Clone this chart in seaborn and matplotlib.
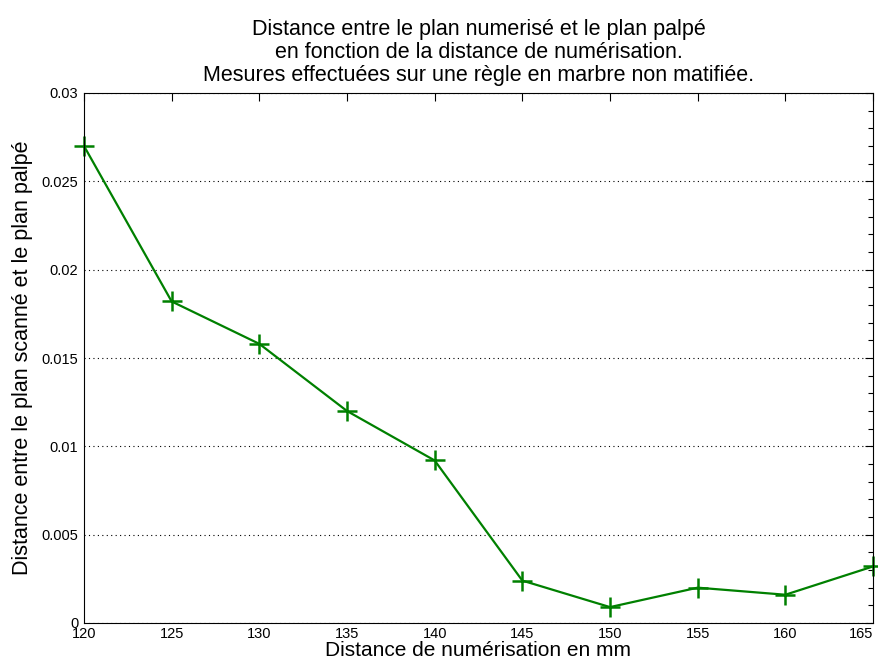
import numpy as np
import pandas as pd
import matplotlib
matplotlib.use("Agg")
import matplotlib.pyplot as plt
import seaborn as sns
from matplotlib.ticker import MultipleLocator

# distances de numérisation (mm) et écarts mesurés
distance_mm = [120, 125, 130, 135, 140, 145, 150, 155, 160, 165]
ecart = [0.0270, 0.0182, 0.0158, 0.0120, 0.0092, 0.0024, 0.0009, 0.0020, 0.0016, 0.0032]
x_ticks = [120, 125, 130, 135, 140, 145, 150, 155, 160, 165]
y_ticks = [0, 0.005, 0.01, 0.015, 0.02, 0.025, 0.03]
y_ticklabels = ["0", "0.005", "0.01", "0.015", "0.02", "0.025", "0.03"]

df = pd.DataFrame({"distance": distance_mm, "ecart": ecart})

sns.set_style("white")
plt.rcParams["font.family"] = ["Liberation Sans", "DejaVu Sans"]
plt.rcParams["text.color"] = "black"
plt.rcParams["axes.labelcolor"] = "black"

fig = plt.figure(figsize=(8.79, 6.68), dpi=100)
ax = fig.add_axes([84 / 879, 45 / 668, 789 / 879, 530 / 668])

sns.lineplot(data=df, x="distance", y="ecart", ax=ax, color="#008000",
             marker="+", markersize=14, markeredgewidth=1.8,
             markeredgecolor="#008000", linewidth=1.6)
for ln in ax.lines:
    ln.set_clip_on(False)

ax.set_xlim(120, 165)
ax.set_ylim(0, 0.03)
ax.set_xticks(x_ticks)
ax.set_yticks(y_ticks)
ax.set_yticklabels(y_ticklabels)
ax.yaxis.set_minor_locator(MultipleLocator(0.001))
ax.tick_params(which="both", direction="in", top=True, right=True,
               labelsize=10.5, colors="black", length=6, width=0.8)
ax.tick_params(axis="x", pad=3)
ax.tick_params(axis="y", pad=4)
ax.tick_params(which="minor", length=3.5)
# last x label pulled inside the figure, as in the original
ax.get_xticklabels()[-1].set_horizontalalignment("right")
ax.yaxis.grid(True, which="major", linestyle=(0, (1, 3)), color="black", linewidth=0.8)
ax.xaxis.grid(False)
for s in ax.spines.values():
    s.set_color("black")
    s.set_linewidth(0.8)

ax.set_xlabel("Distance de numérisation en mm", fontsize=15, labelpad=0)
ax.set_ylabel("Distance entre le plan scanné et le plan palpé", fontsize=15.5, labelpad=6)
ax.set_title("Distance entre le plan numerisé et le plan palpé\n"
             "en fonction de la distance de numérisation.\n"
             "Mesures effectuées sur une règle en marbre non matifiée.",
             fontsize=15.5, linespacing=1.12, pad=9, color="black")

fig.savefig("out.png", dpi=100)
